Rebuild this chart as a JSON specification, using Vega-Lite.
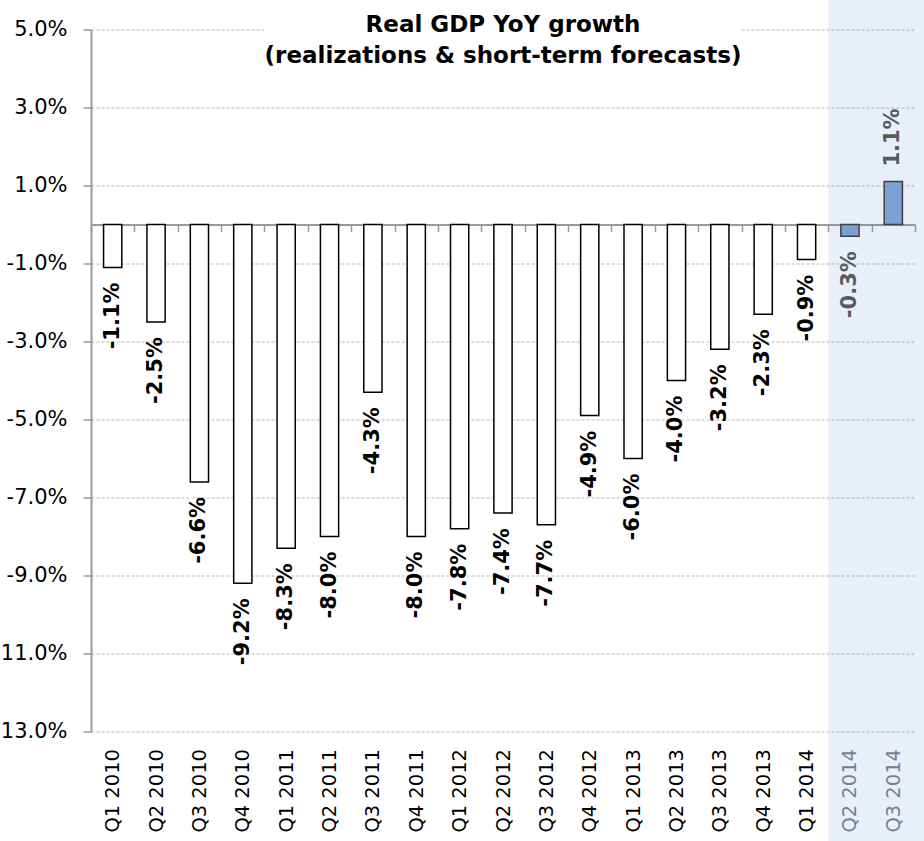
{
  "$schema": "https://vega.github.io/schema/vega-lite/v6.json",
  "width": 824,
  "height": 702,
  "autosize": {"type": "none"},
  "padding": {"left": 91, "top": 29.5, "right": 9, "bottom": 109.5},
  "background": "white",
  "title": {
    "text": ["Real GDP YoY growth", "(realizations & short-term forecasts)"],
    "font": "DejaVu Sans",
    "fontSize": 23,
    "fontWeight": "bold",
    "color": "black",
    "lineHeight": 31,
    "anchor": "middle",
    "offset": -77
  },
  "config": {
    "view": {"stroke": null},
    "font": "DejaVu Sans"
  },
  "datasets": {
    "gdp": [
      {"quarter": "Q1 2010", "value": -1.1, "status": "realized"},
      {"quarter": "Q2 2010", "value": -2.5, "status": "realized"},
      {"quarter": "Q3 2010", "value": -6.6, "status": "realized"},
      {"quarter": "Q4 2010", "value": -9.2, "status": "realized"},
      {"quarter": "Q1 2011", "value": -8.3, "status": "realized"},
      {"quarter": "Q2 2011", "value": -8.0, "status": "realized"},
      {"quarter": "Q3 2011", "value": -4.3, "status": "realized"},
      {"quarter": "Q4 2011", "value": -8.0, "status": "realized"},
      {"quarter": "Q1 2012", "value": -7.8, "status": "realized"},
      {"quarter": "Q2 2012", "value": -7.4, "status": "realized"},
      {"quarter": "Q3 2012", "value": -7.7, "status": "realized"},
      {"quarter": "Q4 2012", "value": -4.9, "status": "realized"},
      {"quarter": "Q1 2013", "value": -6.0, "status": "realized"},
      {"quarter": "Q2 2013", "value": -4.0, "status": "realized"},
      {"quarter": "Q3 2013", "value": -3.2, "status": "realized"},
      {"quarter": "Q4 2013", "value": -2.3, "status": "realized"},
      {"quarter": "Q1 2014", "value": -0.9, "status": "realized"},
      {"quarter": "Q2 2014", "value": -0.3, "status": "forecast"},
      {"quarter": "Q3 2014", "value": 1.1, "status": "forecast"}
    ],
    "forecastRegion": [
      {"from": "Q2 2014", "to": "Q3 2014", "top": 6, "bottom": -20}
    ],
    "titleBox": [
      {"from": "Q1 2011", "to": "Q3 2013", "top": 5.3, "bottom": 4.3}
    ]
  },
  "layer": [
    {
      "data": {"name": "forecastRegion"},
      "mark": {"type": "rect", "fill": "#4a7fd0", "fillOpacity": 0.12, "x2Offset": 9},
      "encoding": {
        "x": {"field": "from", "type": "nominal", "bandPosition": 0},
        "x2": {"field": "to", "bandPosition": 1},
        "y": {"field": "top", "type": "quantitative"},
        "y2": {"field": "bottom"}
      }
    },
    {
      "data": {"name": "titleBox"},
      "mark": {"type": "rect", "fill": "white"},
      "encoding": {
        "x": {"field": "from", "type": "nominal", "bandPosition": 0},
        "x2": {"field": "to", "bandPosition": 1},
        "y": {"field": "top", "type": "quantitative"},
        "y2": {"field": "bottom"}
      }
    },
    {
      "data": {"name": "gdp"},
      "mark": {"type": "bar", "width": {"band": 0.42}, "strokeWidth": 1.5},
      "encoding": {
        "x": {
          "field": "quarter",
          "type": "nominal",
          "sort": null,
          "scale": {
            "domain": ["Q1 2010","Q2 2010","Q3 2010","Q4 2010","Q1 2011","Q2 2011","Q3 2011","Q4 2011","Q1 2012","Q2 2012","Q3 2012","Q4 2012","Q1 2013","Q2 2013","Q3 2013","Q4 2013","Q1 2014","Q2 2014","Q3 2014"],
            "paddingInner": 0,
            "paddingOuter": 0
          },
          "axis": {
            "orient": "bottom",
            "offset": -507,
            "zindex": 0,
            "title": null,
            "domain": true,
            "domainColor": "#9a9a9a",
            "domainWidth": 2,
            "ticks": true,
            "tickBand": "extent",
            "tickSize": 7,
            "tickColor": "#9a9a9a",
            "tickWidth": 1.5,
            "grid": false,
            "labelAngle": 270,
            "labelAlign": "right",
            "labelBaseline": "middle",
            "labelPadding": 517,
            "labelFont": "DejaVu Sans",
            "labelFontSize": 19.5,
            "labelColor": {"condition": {"test": "indexof(['Q2 2014','Q3 2014'], datum.value) >= 0", "value": "#7f7f7f"}, "value": "black"}
          }
        },
        "y": {
          "field": "value",
          "type": "quantitative",
          "scale": {"domain": [-13, 5], "nice": false, "zero": false},
          "axis": {
            "title": null,
            "zindex": 0,
            "values": [5, 3, 1, -1, -3, -5, -7, -9, -11, -13],
            "labelExpr": "(datum.value < 0 && datum.value > -10 ? '-' : '') + format(abs(datum.value), '.1f') + '%'",
            "labelFont": "DejaVu Sans",
            "labelFontSize": 21,
            "labelColor": "black",
            "labelPadding": 16,
            "domainColor": "#9a9a9a",
            "domainWidth": 2,
            "tickColor": "#9a9a9a",
            "tickSize": 8,
            "tickWidth": 1.5,
            "grid": true,
            "gridColor": "#b8b8b8",
            "gridDash": [3, 2],
            "gridWidth": 1
          }
        },
        "fill": {
          "field": "status",
          "type": "nominal",
          "scale": {"domain": ["realized", "forecast"], "range": ["white", "#7aa0d6"]},
          "legend": null
        },
        "stroke": {
          "field": "status",
          "type": "nominal",
          "scale": {"domain": ["realized", "forecast"], "range": ["black", "#404040"]},
          "legend": null
        }
      }
    },
    {
      "data": {"name": "gdp"},
      "transform": [
        {"filter": "datum.value < 0"},
        {"calculate": "'-' + format(abs(datum.value), '.1f') + '%'", "as": "label"}
      ],
      "mark": {"type": "text", "angle": 270, "align": "right", "baseline": "middle", "dx": -15, "font": "DejaVu Sans", "fontSize": 21, "fontWeight": "bold"},
      "encoding": {
        "x": {"field": "quarter", "type": "nominal"},
        "y": {"field": "value", "type": "quantitative"},
        "text": {"field": "label"},
        "color": {
          "field": "status",
          "type": "nominal",
          "scale": {"domain": ["realized", "forecast"], "range": ["black", "#595959"]},
          "legend": null
        }
      }
    },
    {
      "data": {"name": "gdp"},
      "transform": [
        {"filter": "datum.value >= 0"},
        {"calculate": "format(datum.value, '.1f') + '%'", "as": "label"}
      ],
      "mark": {"type": "text", "angle": 270, "align": "left", "baseline": "middle", "dx": 15, "font": "DejaVu Sans", "fontSize": 21, "fontWeight": "bold"},
      "encoding": {
        "x": {"field": "quarter", "type": "nominal"},
        "y": {"field": "value", "type": "quantitative"},
        "text": {"field": "label"},
        "color": {
          "field": "status",
          "type": "nominal",
          "scale": {"domain": ["realized", "forecast"], "range": ["black", "#595959"]},
          "legend": null
        }
      }
    }
  ]
}
